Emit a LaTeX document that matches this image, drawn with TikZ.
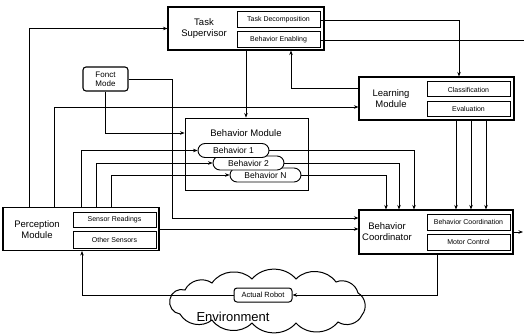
\documentclass[tikz,border=0pt]{standalone}
\usepackage{fontspec}
\setmainfont{Liberation Sans}
\usetikzlibrary{arrows.meta}
\begin{document}
\begin{tikzpicture}[x=1pt,y=-1pt,
  every path/.style={line width=0.7pt},
  mainbox/.style={draw, line width=1.1pt, fill=white, inner sep=0pt},
  subbox/.style={draw, line width=1pt, minimum width=83pt, inner sep=0pt, font=\fontsize{7}{8}\selectfont},
  mainlbl/.style={align=center, font=\fontsize{9.5}{11}\selectfont, inner sep=0pt},
  pill/.style={draw, line width=0.9pt, fill=white, rounded corners=7pt, minimum width=71pt, minimum height=14pt, inner sep=0pt, font=\fontsize{8.5}{10}\selectfont},
  arr/.style={-{Stealth[length=4.5pt,width=3.5pt]}},
  puff/.style={bend left=50}
]
\useasboundingbox (0,0) rectangle (524,334);

% Task Supervisor
\node[mainbox, minimum width=156pt, minimum height=43pt] (TS) at (246,28.5) {};
\node[mainlbl] (TSl) at (204,29) {Task\\Supervisor};
\node[subbox, minimum height=16pt] (TD) at (278.5,20) {Task Decomposition};
\node[subbox, minimum height=16pt] (BE) at (278.5,40) {Behavior Enabling};

% Fonct Mode
\node[draw, line width=1.1pt, rounded corners=3pt, minimum width=45pt, minimum height=24pt, inner sep=0pt, align=center, font=\fontsize{8}{9}\selectfont] (FM) at (105.5,79) {Fonct\\Mode};

% Learning Module
\node[mainbox, minimum width=155pt, minimum height=43pt] (LM) at (436.5,98.5) {};
\node[mainlbl] (LMl) at (391,99) {Learning\\Module};
\node[subbox, minimum height=15pt] (CL) at (468.5,89.5) {Classification};
\node[subbox, minimum height=14pt] (EV) at (468.5,109) {Evaluation};

% Behavior Module
\node[mainbox, line width=0.9pt, minimum width=123pt, minimum height=72pt] (BM) at (246.5,154) {};
\node[mainlbl] (BMl) at (246,133) {Behavior Module};
\node[pill] (BN) at (265.5,175) {Behavior N};
\node[pill] (B2) at (248.5,163) {Behavior 2};
\node[pill] (B1) at (233.5,150.5) {Behavior 1};

% Perception Module
\node[mainbox, minimum width=156pt, minimum height=43pt] (PM) at (81,229) {};
\node[mainlbl] (PMl) at (37,229.5) {Perception\\Module};
\node[subbox, minimum height=15pt] (SR) at (114.5,219.5) {Sensor Readings};
\node[subbox, minimum height=17pt] (OS) at (114.5,239.5) {Other Sensors};

% Behavior Coordinator
\node[mainbox, minimum width=154pt, minimum height=44pt] (BC) at (436,232) {};
\node[mainlbl] (BCl) at (387,232) {Behavior\\Coordinator};
\node[subbox, minimum height=16pt] (BCo) at (468.5,222) {Behavior Coordination};
\node[subbox, minimum height=16pt] (MC) at (468.5,242) {Motor Control};

% Environment cloud
\draw[line width=1pt] (185,290) to[puff] (212,283) to[puff] (252,279) to[puff] (296,279)
  to[puff] (336,282) to[puff] (358,293) to[puff] (362,315) to[puff] (338,322)
  to[puff] (296,323) to[puff] (252,323) to[puff] (212,320) to[puff] (180,314)
  to[puff] (170,299) to[puff] cycle;
\node[font=\fontsize{13}{15}\selectfont, inner sep=0pt] (ENVl) at (233,317) {Environment};
\node[draw, line width=1pt, fill=white, rounded corners=3pt, minimum width=58pt, minimum height=14pt, inner sep=0pt, font=\fontsize{7.5}{9}\selectfont] (AR) at (263,295) {Actual Robot};

\coordinate (edgeR) at (524,40);
\coordinate (outR) at (523,232);

% connectors
\draw[arr] ([xshift=27pt]PM.north west) |- (TS.west);
\draw[arr] ([xshift=52pt]PM.north west) |- ([yshift=-8.5pt]LM.west);
\draw[arr] ([xshift=79pt]PM.north west) |- (B1.west);
\draw[arr] ([xshift=94pt]PM.north west) |- (B2.west);
\draw[arr] ([xshift=109pt]PM.north west) |- (BN.west);
\draw[arr] (PM.east) -- (PM.east -| BC.west);
\draw[arr] (AR.west) -| ([xshift=1pt]PM.south);
\draw[arr] ([xshift=1pt]BC.south) |- (AR.east);
\draw[arr] (BC.east) -- (outR);

\draw[arr] (TS.south) -- (TS.south |- BM.north);
\draw[arr] (TD.east) -| ([xshift=22.5pt]LM.north);
\draw (BE.east) -- (edgeR);
\draw[arr] ([yshift=10.5pt]LM.west) -| ([xshift=45pt]TS.south);

\draw[arr] (FM.east) -- ++(44,0) |- ([yshift=14pt]BC.west);
\draw[arr] (FM.south) |- ([yshift=21pt]BM.west);

\draw[arr] (B1.east) -| ([xshift=-22pt]BC.north);
\draw[arr] (B2.east) -| ([xshift=-37pt]BC.north);
\draw[arr] (BN.east) -| ([xshift=-50pt]BC.north);

\draw[arr] ([xshift=19.5pt]LM.south) -- ([xshift=19.5pt]LM.south |- BC.north);
\draw[arr] ([xshift=34.5pt]LM.south) -- ([xshift=34.5pt]LM.south |- BC.north);
\draw[arr] ([xshift=49.5pt]LM.south) -- ([xshift=49.5pt]LM.south |- BC.north);
\end{tikzpicture}
\end{document}
